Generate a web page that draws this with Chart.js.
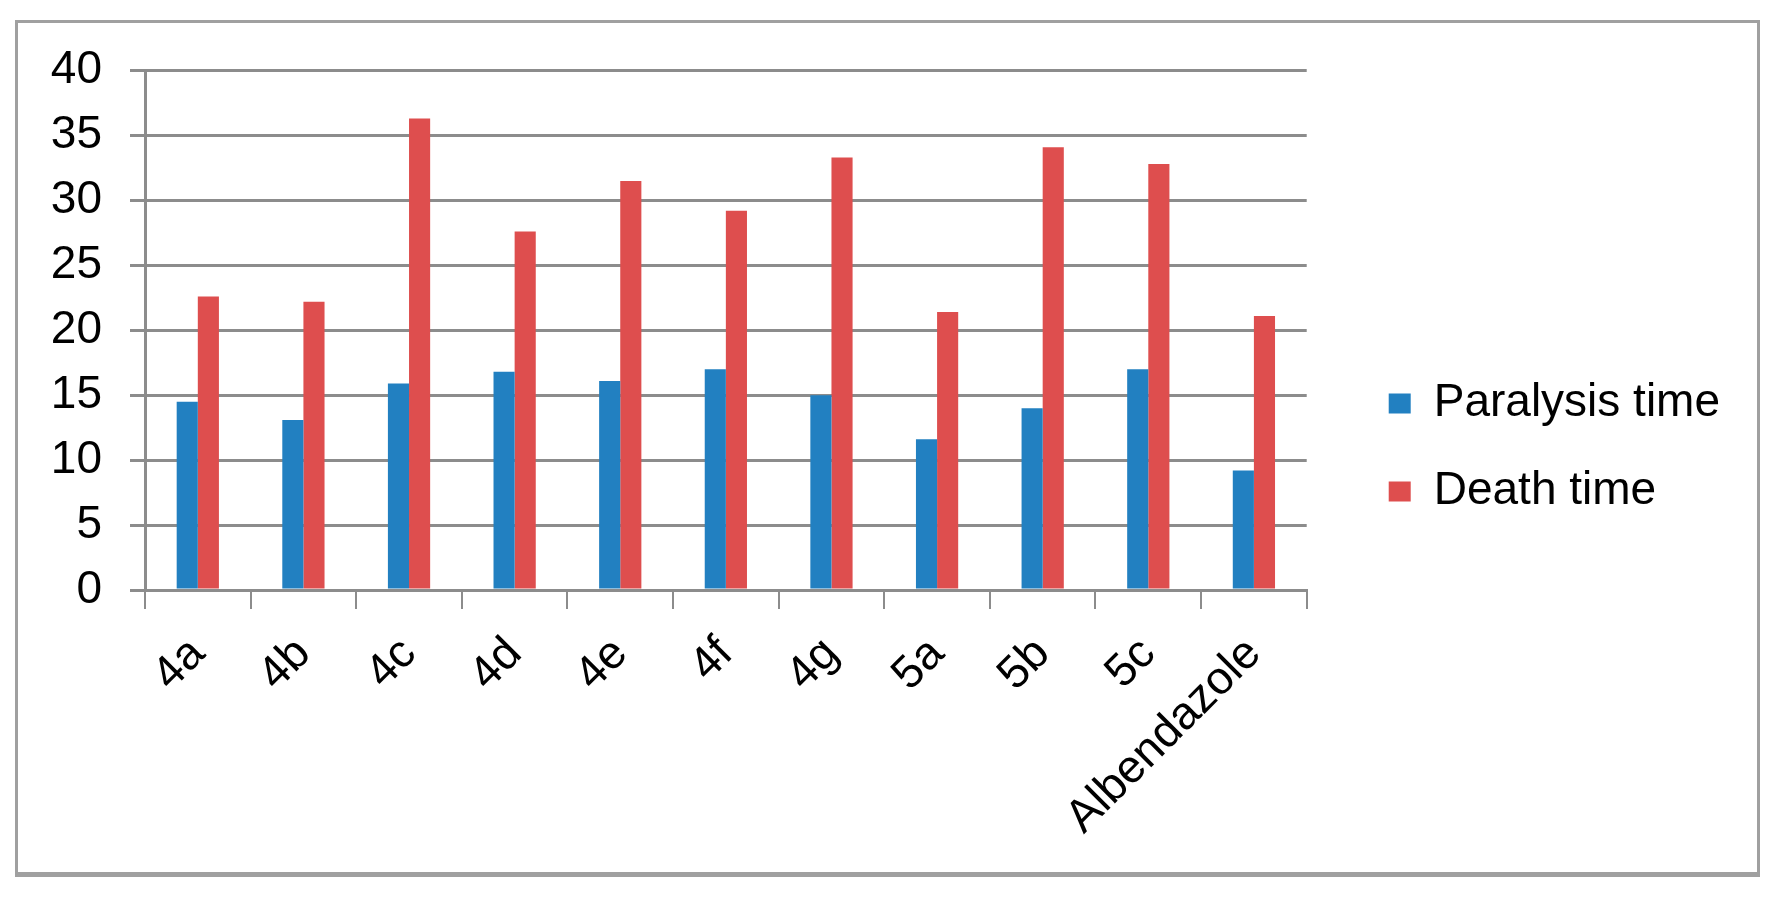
<!DOCTYPE html>
<html>
<head>
<meta charset="utf-8">
<script src="https://cdn.jsdelivr.net/npm/chart.js@4.4.1/dist/chart.umd.min.js"></script>
<style>
  body { margin: 0; background: #fff; }
  #frame {
    position: absolute; left: 15px; top: 20px;
    width: 1739px; height: 849px;
    border: 3px solid #a0a0a0; border-bottom-width: 5px;
  }
</style>
</head>
<body>
<div id="frame"><canvas id="wormChart" width="1739" height="849"></canvas></div>
<script>
// compounds on the x axis
const compounds = ["4a", "4b", "4c", "4d", "4e", "4f", "4g", "5a", "5b", "5c", "Albendazole"];
// times
const paralysisTime = [14.5, 13.1, 15.9, 16.8, 16.1, 17.0, 15.0, 11.6, 14.0, 17.0, 9.2];
const deathTime = [22.6, 22.2, 36.3, 27.6, 31.5, 29.2, 33.3, 21.4, 34.1, 32.8, 21.1];
const yTicks = [0, 5, 10, 15, 20, 25, 30, 35, 40];

const gridGrey = "#8c8c8c";
const labelFont = { family: "'Liberation Sans', Arial, sans-serif", size: 46 };
const yTickFont = { family: "'Liberation Sans', Arial, sans-serif", size: 46, lineHeight: 0.85 };

let ctx = document.getElementById("wormChart").getContext("2d");

new Chart(ctx, {
    type: "bar",
    data: {
        labels: compounds,
        datasets: [{
            label: "Paralysis time",
            data: paralysisTime,
            backgroundColor: "#2280c1"
        }, {
            label: "Death time",
            data: deathTime,
            backgroundColor: "#de4e4e"
        }]
    },
    options: {
        responsive: false,
        animation: false,
        categoryPercentage: 0.4,
        barPercentage: 1.0,
        layout: { padding: { top: 32, bottom: 32, left: 0, right: 27 } },
        plugins: {
            tooltip: { enabled: false },
            legend: {
                position: "right",
                align: "center",
                maxWidth: 700,
                labels: {
                    font: labelFont,
                    color: "#000",
                    boxWidth: 22,
                    boxHeight: 20,
                    padding: 42
                }
            }
        },
        scales: {
            x: {
                grid: {
                    drawOnChartArea: false,
                    drawTicks: true,
                    tickLength: 19,
                    color: gridGrey,
                    lineWidth: 2
                },
                border: { color: gridGrey, width: 3 },
                ticks: {
                    font: labelFont,
                    color: "#000",
                    minRotation: 45,
                    maxRotation: 45,
                    padding: 18
                },
                afterFit: function (scale) { scale.height = 250; }
            },
            y: {
                min: 0,
                max: 40,
                afterBuildTicks: function (scale) {
                    scale.ticks = yTicks.map(v => ({ value: v }));
                },
                grid: {
                    color: gridGrey,
                    lineWidth: 3,
                    tickLength: 15
                },
                border: { color: gridGrey, width: 3 },
                ticks: {
                    font: yTickFont,
                    color: "#000",
                    padding: 28
                },
                afterFit: function (scale) { scale.width = 127; }
            },
            // empty right axis, only keeps a gap between plot and legend
            gap: {
                position: "right",
                display: true,
                grid: { display: false },
                border: { display: false },
                ticks: { display: false },
                afterFit: function (scale) { scale.width = 40; }
            }
        }
    }
});
</script>
</body>
</html>
